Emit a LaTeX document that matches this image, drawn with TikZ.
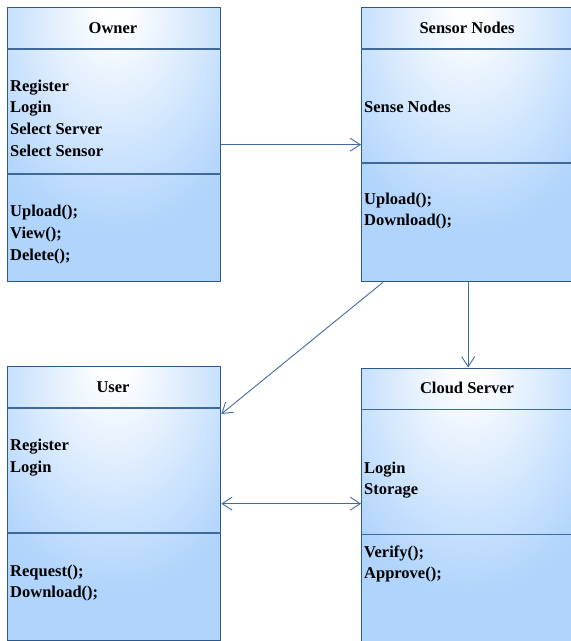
\documentclass[tikz,border=0pt]{standalone}
\usepackage{fontspec}
\setmainfont{Liberation Serif}
\usetikzlibrary{arrows.meta}
\definecolor{boxblue}{RGB}{176,212,252}
\definecolor{boxline}{RGB}{44,88,140}
\definecolor{divline}{RGB}{64,104,152}
\definecolor{linkline}{RGB}{66,106,162}
% soft white glow near the top middle of every class box
\pgfdeclareradialshading{boxglow}{\pgfpoint{0bp}{27bp}}{%
  color(0bp)=(white); color(3bp)=(white); color(34bp)=(boxblue); color(100bp)=(boxblue)}
\tikzset{
  classbox/.style={draw=boxline, line width=1.3pt, shading=boxglow,
    minimum width=213pt, minimum height=274pt, anchor=north west, inner sep=0pt},
  divider/.style={draw=divline, line width=1.1pt},
  title/.style={font=\fontsize{16.5}{20}\selectfont\bfseries, anchor=base, inner sep=0pt},
  entry/.style={font=\fontsize{16.5}{20}\selectfont\bfseries, anchor=base west, inner sep=0pt},
  link/.style={draw=linkline, line width=0.9pt},
  tip/.style={-{Straight Barb[length=10pt,width=13pt,line width=0.9pt]}},
  bothtips/.style={{Straight Barb[length=10pt,width=13pt,line width=0.9pt]}-{Straight Barb[length=10pt,width=13pt,line width=0.9pt]}}
}
\begin{document}
\begin{tikzpicture}[x=1pt,y=1pt]
\useasboundingbox (0,0) rectangle (571,-641);
\clip (0,0) rectangle (571,-641);

% class boxes
\node[classbox] (owner)  at (7,-7) {};
\node[classbox] (sensor) at (361,-7) {};
\node[classbox] (user)   at (7,-366) {};
\node[classbox] (cloud)  at (361,-367.5) {};

% compartment separators
\draw[divider] ([yshift=-42pt]owner.north west) -- ([yshift=-42pt]owner.north east);
\draw[divider] ([yshift=-167pt]owner.north west) -- ([yshift=-167pt]owner.north east);
\draw[divider] ([yshift=-42pt]sensor.north west) -- ([yshift=-42pt]sensor.north east);
\draw[divider] ([yshift=-156pt]sensor.north west) -- ([yshift=-156pt]sensor.north east);
\draw[divider] ([yshift=-42pt]user.north west) -- ([yshift=-42pt]user.north east);
\draw[divider] ([yshift=-167pt]user.north west) -- ([yshift=-167pt]user.north east);
\draw[divider] ([yshift=-42pt]cloud.north west) -- ([yshift=-42pt]cloud.north east);
\draw[divider] ([yshift=-167pt]cloud.north west) -- ([yshift=-167pt]cloud.north east);

% Owner
\node[title] (ownerT) at (113,-33) {Owner};
\node[entry] (o1) at (10,-91) {Register};
\node[entry] (o2) at (10,-112.5) {Login};
\node[entry] (o3) at (10,-134) {Select Server};
\node[entry] (o4) at (10,-156) {Select Sensor};
\node[entry] (o5) at (10,-216) {Upload();};
\node[entry] (o6) at (10,-238) {View();};
\node[entry] (o7) at (10,-260) {Delete();};

% Sensor Nodes
\node[title] (sensorT) at (467,-33) {Sensor Nodes};
\node[entry] (s1) at (364,-112) {Sense Nodes};
\node[entry] (s2) at (364,-204.5) {Upload();};
\node[entry] (s3) at (364,-225.5) {Download();};

% User
\node[title] (userT) at (113,-392) {User};
\node[entry] (u1) at (10,-450.5) {Register};
\node[entry] (u2) at (10,-472) {Login};
\node[entry] (u3) at (10,-576.5) {Request();};
\node[entry] (u4) at (10,-597.5) {Download();};

% Cloud Server
\node[title] (cloudT) at (467,-393) {Cloud Server};
\node[entry] (c1) at (364,-473) {Login};
\node[entry] (c2) at (364,-494.5) {Storage};
\node[entry] (c3) at (364,-557) {Verify();};
\node[entry] (c4) at (364,-578) {Approve();};

% associations
\draw[link,tip] (owner.east) -- (sensor.west);
\draw[link,tip] (sensor.south) -- (cloud.north);
\draw[link,tip] ([xshift=22pt]sensor.south west) -- ([yshift=-48pt]user.north east);
\draw[link,bothtips] (user.east) -- (user.east -| cloud.west);
\end{tikzpicture}
\end{document}
